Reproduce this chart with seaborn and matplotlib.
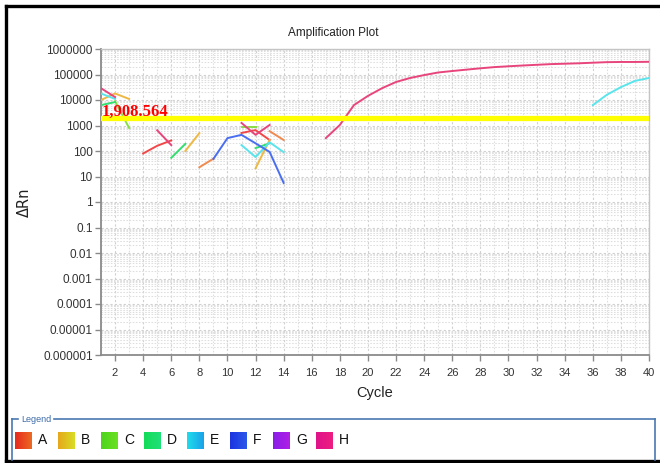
import numpy as np
import pandas as pd
import matplotlib
matplotlib.use("Agg")
import matplotlib.pyplot as plt
import matplotlib.ticker as mticker
from matplotlib.lines import Line2D
from matplotlib.colors import LinearSegmentedColormap
import seaborn as sns

# ---------------- data ----------------
threshold = 1908.564
threshold_label = "1,908.564"

A_cycles = [4, 5, 6, 11, 12, 13]
A_values = [80, 160, 260, 510, 660, 270]
A2_cycles = [8, 9, 13, 14]
A2_values = [23, 50, 600, 270]
B_cycles = [1, 2, 3, 7, 8, 12, 13]
B_values = [10000, 18000, 11000, 100, 500, 21, 270]
C_cycles = [2, 3, 11, 12]
C_values = [9000, 800, 850, 850]
D_cycles = [1, 2, 6, 7, 12, 13]
D_values = [6300, 8300, 54, 190, 130, 200]
E_cycles = [1, 2, 11, 12, 13, 14, 36, 37, 38, 39, 40]
E_values = [18000, 11000, 170, 58, 220, 90, 6300, 16000, 32000, 56000, 73000]
F_cycles = [9, 10, 11, 12, 13, 14]
F_values = [49, 320, 430, 200, 92, 5.6]
H_cycles = [1, 2, 5, 6, 11, 12, 13] + list(range(17, 41))
H_values = [29000, 13000, 650, 170, 1260, 430, 1050,
            320, 1050, 6300, 14500, 29000, 51000, 73000, 95000, 120000,
            137000, 155000, 175000, 195000, 210000, 225000, 240000, 255000,
            265000, 275000, 290000, 305000, 310000, 310000, 315000]

wells = ["A", "A2", "B", "C", "D", "E", "F", "H"]
well_cycles = [A_cycles, A2_cycles, B_cycles, C_cycles, D_cycles, E_cycles, F_cycles, H_cycles]
well_values = [A_values, A2_values, B_values, C_values, D_values, E_values, F_values, H_values]
line_colors = ["#f04848", "#f08a50", "#eeb844", "#88dd44", "#33dd70", "#5ae4ec", "#4a6ef0", "#e8457c"]

legend_names = ["A", "B", "C", "D", "E", "F", "G", "H"]
legend_colors = [("#e82a1e", "#ea6a22"), ("#e6a81c", "#d8dc24"), ("#4ed41e", "#6ae022"),
                 ("#14dc58", "#20e078"), ("#20dcea", "#1aa2ea"), ("#1c34e2", "#2a58e8"),
                 ("#8a1ee6", "#b01ee6"), ("#e0148a", "#ec1e80")]

ytick_vals = [1e-6, 1e-5, 1e-4, 1e-3, 1e-2, 1e-1, 1, 10, 100, 1000, 1e4, 1e5, 1e6]
ytick_labels = ["0.000001", "0.00001", "0.0001", "0.001", "0.01", "0.1", "1",
                "10", "100", "1000", "10000", "100000", "1000000"]
xtick_vals = list(range(2, 41, 2))

# ---------------- long table ----------------
rows = []
for w, cs, vs in zip(wells, well_cycles, well_values):
    seg = 0
    prev = None
    for c, v in zip(cs, vs):
        if prev is not None and c - prev > 1:
            seg += 1
        rows.append({"well": w, "seg": f"{w}_{seg}", "cycle": c, "dRn": v})
        prev = c
df = pd.DataFrame(rows)

# ---------------- figure ----------------
W, H = 660, 463
fig = plt.figure(figsize=(W / 100, H / 100), dpi=100)
fig.patch.set_facecolor("white")

def fx(x):
    return x / W

def fy(y):
    return 1 - y / H

ax = fig.add_axes([fx(101), fy(355), fx(649) - fx(101), fy(49) - fy(355)])
ax.set_facecolor("white")

sns.lineplot(data=df, x="cycle", y="dRn", hue="well", units="seg", estimator=None,
             palette=dict(zip(wells, line_colors)), hue_order=wells, legend=False,
             linewidth=1.4, sort=False, ax=ax, zorder=3)

ax.set_yscale("log")
ax.set_ylim(1e-6, 1e6)
ax.set_xlim(1, 40)

ax.yaxis.set_major_locator(mticker.FixedLocator(ytick_vals))
ax.yaxis.set_major_formatter(mticker.FixedFormatter(ytick_labels))
ax.yaxis.set_minor_locator(mticker.LogLocator(base=10, subs=range(2, 10), numticks=30))
ax.yaxis.set_minor_formatter(mticker.NullFormatter())
ax.xaxis.set_major_locator(mticker.FixedLocator(xtick_vals))
ax.xaxis.set_minor_locator(mticker.MultipleLocator(1))

ax.grid(which="major", axis="both", color="#d0d0d0", linestyle=(0, (2, 2)), linewidth=0.8, zorder=0)
ax.grid(which="minor", axis="both", color="#dedede", linestyle=(0, (1.5, 1.5)), linewidth=0.75, zorder=0)
ax.set_axisbelow(True)

for s in ["left", "bottom"]:
    ax.spines[s].set_color("#8a8a8a")
    ax.spines[s].set_linewidth(1.3)
for s in ["top", "right"]:
    ax.spines[s].set_color("#c4c4c4")
    ax.spines[s].set_linewidth(1.0)

ax.tick_params(which="major", direction="out", length=4, width=1, color="#8a8a8a",
               labelcolor="#333333", labelsize=8.5, pad=2)
ax.tick_params(axis="x", labelsize=8, pad=5)
ax.tick_params(which="minor", length=0)
for lab in ax.get_xticklabels() + ax.get_yticklabels():
    lab.set_fontfamily("Liberation Sans")

ax.set_xlabel("Cycle", fontsize=10.5, family="Liberation Sans", color="#222222", labelpad=6)
ax.set_ylabel("ΔRn", fontsize=10.5, family="DejaVu Sans", color="#222222", labelpad=8)

# threshold line and label
ax.axhline(threshold, color="#ffff00", linewidth=3.8, zorder=5)
ax.annotate(threshold_label, xy=(1, threshold), xycoords="data", xytext=(0.5, -1),
            textcoords="offset points", ha="left", va="bottom", color="#ff0000",
            fontsize=12, fontweight="bold", family="Liberation Serif", zorder=6)

# title
fig.text(fx(333), fy(33), "Amplification Plot", ha="center", va="center",
         fontsize=8.5, family="Liberation Sans", color="#222222")

# outer black frame
frame_kw = dict(color="black", linewidth=2.4, transform=fig.transFigure)
fig.lines.append(Line2D([fx(6), fx(662)], [fy(6), fy(6)], **frame_kw))
fig.lines.append(Line2D([fx(6), fx(6)], [fy(6), fy(461)], **frame_kw))
fig.lines.append(Line2D([fx(6), fx(662)], [fy(461), fy(461)], **frame_kw))

# legend box
leg_kw = dict(color="#4a78b0", linewidth=1.2, transform=fig.transFigure)
fig.lines.append(Line2D([fx(12), fx(12)], [fy(419), fy(460)], **leg_kw))
fig.lines.append(Line2D([fx(12), fx(18)], [fy(419), fy(419)], **leg_kw))
fig.lines.append(Line2D([fx(54), fx(655)], [fy(419), fy(419)], **leg_kw))
fig.lines.append(Line2D([fx(655), fx(655)], [fy(419), fy(460)], **leg_kw))
fig.text(fx(21), fy(419), "Legend", ha="left", va="center", fontsize=6.5,
         family="Liberation Sans", color="#3a6aa8")

x0 = 15
step = 43
for i, (name, (c1, c2)) in enumerate(zip(legend_names, legend_colors)):
    xs = x0 + i * step
    sq = fig.add_axes([fx(xs), fy(449), fx(17), fy(432) - fy(449)])
    grad = np.linspace(0, 1, 32)[None, :]
    cmap = LinearSegmentedColormap.from_list(f"g{i}", [c1, c2])
    sq.imshow(grad, aspect="auto", cmap=cmap, extent=[0, 1, 0, 1])
    sq.set_axis_off()
    fig.text(fx(xs + 23), fy(440.5), name, ha="left", va="center", fontsize=10,
             family="Liberation Sans", color="#111111")

fig.savefig("out.png", dpi=100, facecolor="white")
